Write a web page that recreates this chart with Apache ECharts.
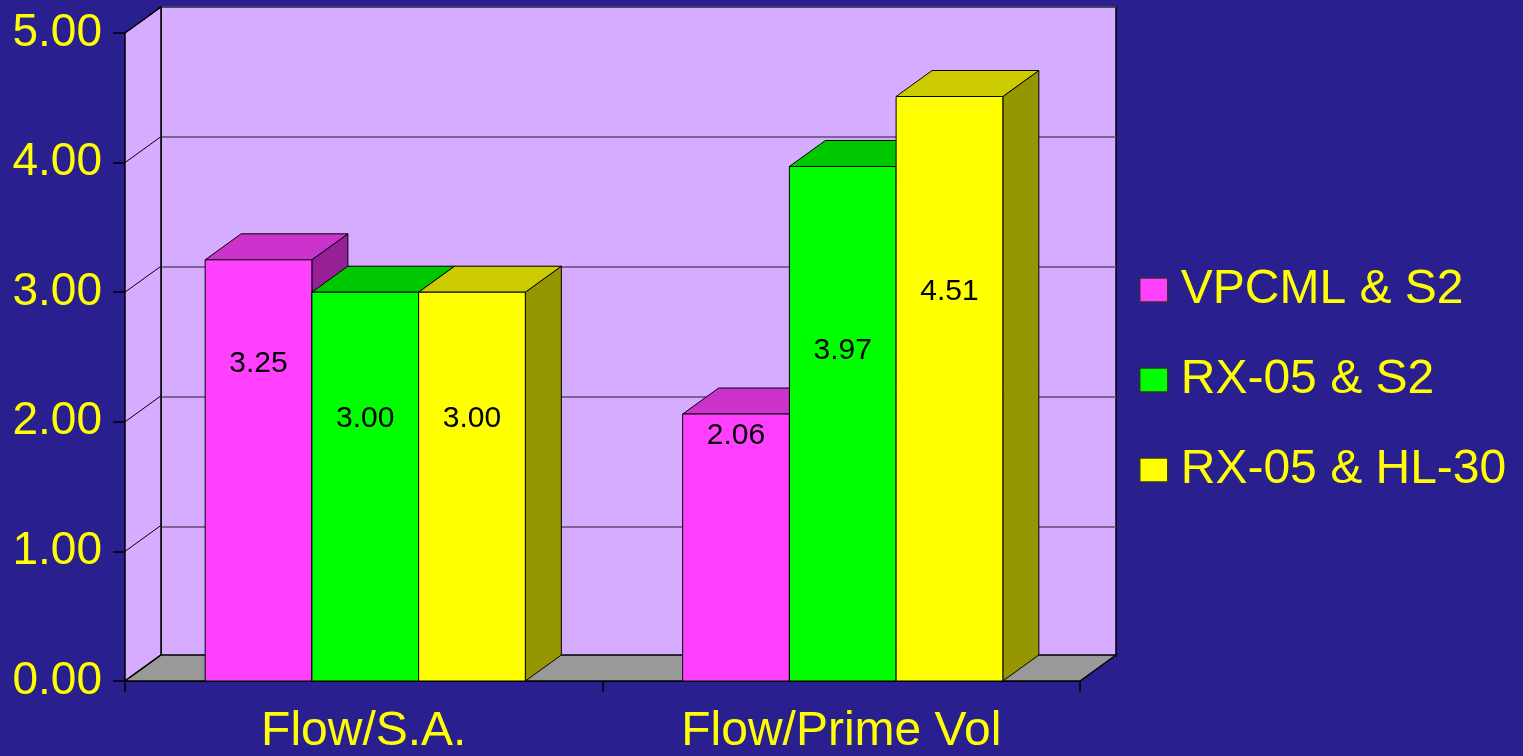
<!DOCTYPE html>
<html>
<head>
<meta charset="utf-8">
<title>Flow comparison</title>
<script src="https://cdn.jsdelivr.net/npm/echarts@6/dist/echarts.min.js"></script>
<style>
html, body { margin: 0; padding: 0; background: #2a1f8f; }
#chart { width: 1523px; height: 756px; }
</style>
</head>
<body>
<div id="chart"></div>
<script>
// data
var categories = ['Flow/S.A.', 'Flow/Prime Vol'];
var seriesNames = ['VPCML & S2', 'RX-05 & S2', 'RX-05 & HL-30'];
var vpcmlS2 = [3.25, 2.06];
var rx05S2 = [3.00, 3.97];
var rx05Hl30 = [3.00, 4.51];
var yTicks = [0, 1, 2, 3, 4, 5];

// look of the 3d boxes
var DX = 36, DY = -26;
var FONT = '"Liberation Sans", Arial, sans-serif';
var faceColors = [
    {front: '#ff40ff', top: '#cc33cc', side: '#962096'},
    {front: '#00ff00', top: '#00c800', side: '#009600'},
    {front: '#ffff00', top: '#cccc00', side: '#969600'}
];
// height (axis units) where each value text sits inside its bar
var labelLevels = [[2.45, 1.89], [2.02, 2.55], [2.02, 3.0]];

var chart = echarts.init(document.getElementById('chart'));

function wallRenderer(params, api) {
    var cs = params.coordSys;
    var xl = cs.x, xr = cs.x + cs.width;
    var y0 = api.coord([0, 0])[1], y5 = api.coord([0, 5])[1];
    var children = [
        {type: 'polygon', shape: {points: [[xl, y5], [xl + DX, y5 + DY], [xl + DX, y0 + DY], [xl, y0]]},
         style: {fill: '#d5acff', stroke: '#000', lineWidth: 1.5}},
        {type: 'polygon', shape: {points: [[xl, y0], [xr, y0], [xr + DX, y0 + DY], [xl + DX, y0 + DY]]},
         style: {fill: '#999999', stroke: '#000', lineWidth: 1.5}}
    ];
    yTicks.forEach(function (t) {
        var y = api.coord([0, t])[1];
        children.push({type: 'line', shape: {x1: xl, y1: y, x2: xl + DX, y2: y + DY},
                       style: {stroke: '#000', lineWidth: 1}});
    });
    return {type: 'group', children: children};
}

function barRenderer(si) {
    return function (params, api) {
        var ci = api.value(0), v = api.value(1);
        var top = api.coord([ci, v]);
        var base = api.coord([ci, 0]);
        var band = api.size([1, 0])[0];
        var w = band * 0.2235;
        var x0 = top[0] + (si - 1.5) * w + 1.5;
        var x1 = x0 + w;
        var c = faceColors[si];
        var ly = api.coord([ci, labelLevels[si][params.dataIndex]])[1];
        return {type: 'group', children: [
            {type: 'polygon', shape: {points: [[x1, top[1]], [x1 + DX, top[1] + DY], [x1 + DX, base[1] + DY], [x1, base[1]]]},
             style: {fill: c.side, stroke: '#000', lineWidth: 1}},
            {type: 'polygon', shape: {points: [[x0, top[1]], [x0 + DX, top[1] + DY], [x1 + DX, top[1] + DY], [x1, top[1]]]},
             style: {fill: c.top, stroke: '#000', lineWidth: 1}},
            {type: 'rect', shape: {x: x0, y: top[1], width: w, height: base[1] - top[1]},
             style: {fill: c.front, stroke: '#000', lineWidth: 1}},
            {type: 'text', x: (x0 + x1) / 2, y: ly,
             style: {text: v.toFixed(2), fill: '#000', font: '30px ' + FONT, align: 'center', verticalAlign: 'middle'}}
        ]};
    };
}

var values = [vpcmlS2, rx05S2, rx05Hl30];
var barSeries = values.map(function (vals, si) {
    return {
        type: 'custom',
        name: seriesNames[si],
        xAxisIndex: 1,
        yAxisIndex: 1,
        z: 3,
        itemStyle: {color: faceColors[si].front, borderColor: '#333', borderWidth: 1.5},
        renderItem: barRenderer(si),
        data: vals.map(function (v, i) { return [i, v]; })
    };
});

var option = {
    animation: false,
    backgroundColor: '#2a1f8f',
    grid: [
        {left: 161, top: 7, width: 955, height: 650, show: true,
         backgroundColor: '#d5acff', borderColor: '#000', borderWidth: 1.5},
        {left: 125, top: 33, width: 955, height: 650}
    ],
    xAxis: [
        {gridIndex: 0, type: 'category', data: categories, show: false},
        {gridIndex: 1, type: 'category', data: categories,
         axisLine: {lineStyle: {color: '#000', width: 1.5}},
         axisTick: {show: true, length: 11, alignWithLabel: false, lineStyle: {color: '#000', width: 1.5}},
         axisLabel: {color: '#ffff00', fontSize: 48, fontFamily: FONT, margin: 27}}
    ],
    yAxis: [
        {gridIndex: 0, type: 'value', min: 0, max: 5, interval: 1,
         axisLine: {show: false}, axisTick: {show: false}, axisLabel: {show: false},
         splitLine: {lineStyle: {color: '#5c4d70', width: 1.5}}},
        {gridIndex: 1, type: 'value', min: 0, max: 5, interval: 1,
         axisLine: {show: true, lineStyle: {color: '#000', width: 1.5}},
         axisTick: {show: true, length: 12, lineStyle: {color: '#000', width: 1.5}},
         axisLabel: {color: '#ffff00', fontSize: 46, fontFamily: FONT, margin: 23,
                     formatter: function (v) { return v.toFixed(2); }},
         splitLine: {show: false}}
    ],
    legend: {
        orient: 'vertical',
        left: 1134,
        top: 261,
        itemWidth: 28,
        itemHeight: 24,
        itemGap: 42,
        icon: 'rect',
        itemStyle: {borderColor: '#333', borderWidth: 1.5},
        textStyle: {color: '#ffff00', fontSize: 48, fontFamily: FONT, lineHeight: 48, padding: [0, 0, 0, 8]},
        data: seriesNames
    },
    series: [{
        type: 'custom',
        xAxisIndex: 1,
        yAxisIndex: 1,
        z: 2,
        silent: true,
        renderItem: wallRenderer,
        data: [[0, 0]]
    }].concat(barSeries)
};
chart.setOption(option);
</script>
</body>
</html>
